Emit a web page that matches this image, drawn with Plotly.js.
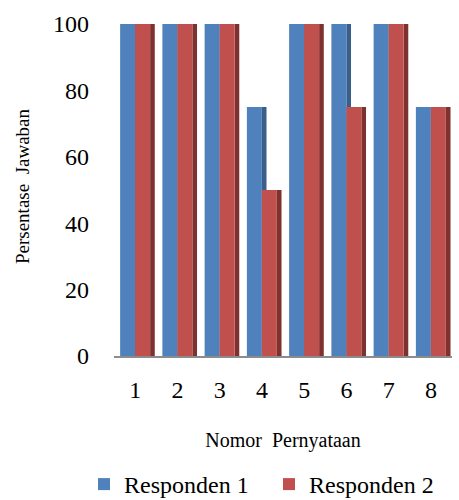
<!DOCTYPE html>
<html>
<head>
<meta charset="utf-8">
<script src="https://cdn.plot.ly/plotly-3.0.1.min.js"></script>
<style>html,body{margin:0;padding:0;background:#fff;}#chart{width:459px;height:500px;}</style>
</head>
<body>
<div id="chart"></div>
<script>
var categories = ["1", "2", "3", "4", "5", "6", "7", "8"];
var responden1 = [100, 100, 100, 75, 100, 100, 100, 75];
var responden2 = [100, 100, 100, 50, 100, 75, 100, 75];
var seriesNames = ["Responden 1", "Responden 2"];
var yTicks = [0, 20, 40, 60, 80, 100];
var xTitle = "Nomor\u00a0 Pernyataan\u00a0\u00a0\u00a0\u00a0\u00a0\u00a0\u00a0";
var yTitle = "Persentase\u00a0 Jawaban";

var BW = 0.355, SW = 0.11;
var blueSide = {type: 'bar', x: categories, y: responden1, yaxis: 'y2', offset: 0, width: SW,
  marker: {color: '#3A5F8B', line: {width: 0}}, showlegend: false, hoverinfo: 'skip'};
var blue = {type: 'bar', name: seriesNames[0], x: categories, y: responden1, yaxis: 'y2', offset: -BW, width: BW,
  marker: {color: '#4F81BD', line: {width: 0}}, hoverinfo: 'skip', legend: 'legend'};
var redSide = {type: 'bar', x: categories, y: responden2, yaxis: 'y2', offset: BW, width: SW,
  marker: {color: '#7E3230', line: {width: 0}}, showlegend: false, hoverinfo: 'skip'};
var red = {type: 'bar', name: seriesNames[1], x: categories, y: responden2, yaxis: 'y2', offset: 0, width: BW,
  marker: {color: '#C0504D', line: {width: 0}}, hoverinfo: 'skip', legend: 'legend2'};

var font = 'Liberation Serif';
var legendFont = {size: 24, family: font, color: '#000'};
var layout = {
  width: 459, height: 500,
  margin: {l: 114, r: 7, t: 17, b: 144, autoexpand: false},
  paper_bgcolor: '#fff', plot_bgcolor: 'rgba(0,0,0,0)',
  barmode: 'overlay',
  showlegend: true,
  font: {family: font, color: '#000'},
  xaxis: {
    type: 'category', range: [-0.5, 7.5], showgrid: false, zeroline: false, automargin: false,
    showline: true, linecolor: '#8c8c8c', linewidth: 1.5,
    ticks: '', tickfont: {size: 24, family: font, color: '#000'}, ticklabelstandoff: 12,
    title: {text: xTitle, font: {size: 20, family: font, color: '#000'}, standoff: 30}
  },
  yaxis: {
    range: [-2.1, 100], tickvals: yTicks, showticklabels: false, showgrid: true, automargin: false,
    gridcolor: '#8c8c8c', gridwidth: 1.5, zeroline: false, ticks: '', showline: false
  },
  yaxis2: {
    overlaying: 'y', side: 'left', range: [0, 102.1], tickvals: yTicks, showgrid: false, automargin: false,
    zeroline: false, showline: false, ticks: '', tickfont: {size: 24, family: font, color: '#000'},
    ticklabelstandoff: 24,
    title: {text: yTitle, font: {size: 19, family: font, color: '#000'}, standoff: 18}
  },
  legend: {orientation: 'h', xref: 'container', yref: 'container', x: 84 / 459, xanchor: 'left',
    y: 0.031, yanchor: 'middle', font: legendFont, itemwidth: 30},
  legend2: {orientation: 'h', xref: 'container', yref: 'container', x: 269 / 459, xanchor: 'left',
    y: 0.031, yanchor: 'middle', font: legendFont, itemwidth: 30}
};

Plotly.newPlot('chart', [blueSide, blue, redSide, red], layout, {staticPlot: true, displayModeBar: false});
</script>
</body>
</html>
